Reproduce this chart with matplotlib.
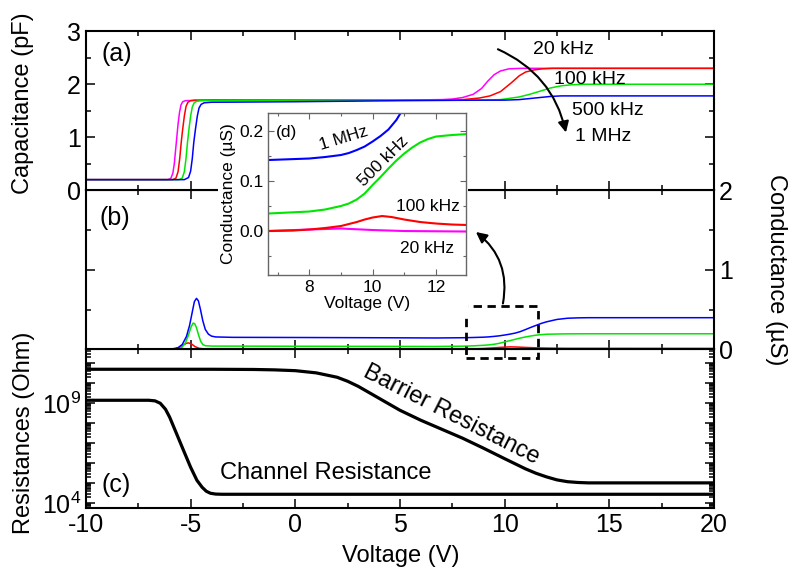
import numpy as np
import matplotlib
matplotlib.use('Agg')
import matplotlib.pyplot as plt
from matplotlib.ticker import MultipleLocator, LogLocator, FuncFormatter, NullFormatter, FormatStrFormatter
from matplotlib.patches import Rectangle

plt.rcParams['font.family'] = ['Liberation Sans', 'DejaVu Sans']
plt.rcParams['mathtext.fontset'] = 'custom'
plt.rcParams['mathtext.rm'] = 'Liberation Sans'
plt.rcParams['mathtext.default'] = 'regular'
plt.rcParams['axes.unicode_minus'] = False
plt.rcParams['xtick.direction'] = 'in'
plt.rcParams['ytick.direction'] = 'in'

# ---- (a) capacitance (pF) ----
v_cap_20k = [-10, -6.1, -5.95, -5.85, -5.78, -5.72, -5.66, -5.6, -5.53, -5.46, -5.38, -5.25, -4, 0, 5,
             7, 7.5, 8.0, 8.5, 8.9, 9.2, 9.5, 9.8, 10.2, 10.8, 20]
cap_20k = [0.2, 0.2, 0.22, 0.32, 0.5, 0.75, 1.0, 1.25, 1.47, 1.61, 1.67, 1.69, 1.7, 1.7, 1.7,
           1.71, 1.72, 1.75, 1.81, 1.92, 2.06, 2.18, 2.25, 2.29, 2.3, 2.3]
v_cap_100k = [-10, -5.85, -5.7, -5.6, -5.52, -5.45, -5.38, -5.3, -5.22, -5.13, -5.0, -4.8, 0, 5,
              8, 8.8, 9.3, 9.8, 10.3, 10.7, 11.0, 11.4, 11.8, 12.3, 20]
cap_100k = [0.2, 0.2, 0.23, 0.35, 0.6, 0.9, 1.15, 1.4, 1.58, 1.66, 1.69, 1.7, 1.7, 1.7,
            1.71, 1.74, 1.78, 1.86, 2.02, 2.16, 2.23, 2.27, 2.29, 2.3, 2.3]
v_cap_500k = [-10, -5.55, -5.4, -5.3, -5.22, -5.15, -5.08, -5.0, -4.92, -4.83, -4.7, -4.5, 0, 5,
              9, 9.8, 10.7, 11.2, 11.7, 12.2, 12.7, 13.2, 13.8, 20]
cap_500k = [0.2, 0.2, 0.23, 0.35, 0.6, 0.9, 1.15, 1.4, 1.57, 1.65, 1.68, 1.69, 1.7, 1.7,
            1.7, 1.71, 1.76, 1.81, 1.87, 1.93, 1.97, 1.99, 2.0, 2.0]
v_cap_1M = [-10, -5.3, -5.1, -5.0, -4.92, -4.85, -4.77, -4.68, -4.6, -4.5, -4.35, -4.0, 0, 5,
            9, 10, 10.7, 11.2, 11.7, 12.2, 12.7, 13.3, 20]
cap_1M = [0.2, 0.2, 0.24, 0.36, 0.6, 0.9, 1.15, 1.4, 1.55, 1.62, 1.65, 1.66, 1.67, 1.69,
          1.7, 1.7, 1.71, 1.73, 1.75, 1.77, 1.78, 1.78, 1.78]

# ---- (b)/(d) conductance (uS) ----
v_g_20k = [-10, -6.0, -5.8, -5.6, -5.45, -5.2, 0, 6.7, 8, 9, 10, 11, 13, 20]
g_20k = [0, 0, 0.01, 0.02, 0.01, 0.002, 0.001, 0.0, 0.003, 0.005, 0.002, 0.0, -0.001, -0.001]
v_g_100k = [-10, -5.8, -5.55, -5.35, -5.2, -5.1, -4.95, -4.8, -4.6, -4.3, 0, 6.7, 7.5, 8, 8.5, 9, 9.5,
            9.75, 10, 10.3, 10.6, 11, 11.5, 12, 12.5, 13, 20]
g_100k = [0, 0, 0.02, 0.055, 0.075, 0.08, 0.065, 0.035, 0.012, 0.003, 0.001, 0.0, 0.001, 0.003, 0.006,
          0.01, 0.018, 0.023, 0.027, 0.03, 0.028, 0.023, 0.018, 0.015, 0.013, 0.012, 0.011]
v_g_500k = [-10, -5.6, -5.4, -5.25, -5.1, -4.98, -4.88, -4.8, -4.72, -4.62, -4.52, -4.42, -4.3, -4.0, 0, 5,
            6.7, 8, 8.5, 9, 9.25, 9.5, 9.75, 10, 10.25, 10.5, 10.75, 11, 11.25, 11.5, 11.75, 12, 12.5,
            13, 14, 20]
g_500k = [0, 0, 0.03, 0.08, 0.18, 0.28, 0.33, 0.32, 0.27, 0.18, 0.1, 0.06, 0.045, 0.04, 0.038, 0.036,
          0.035, 0.039, 0.043, 0.05, 0.055, 0.063, 0.075, 0.092, 0.108, 0.125, 0.141, 0.155, 0.167,
          0.177, 0.184, 0.189, 0.192, 0.194, 0.195, 0.195]
v_g_1M = [-10, -5.8, -5.6, -5.4, -5.2, -5.05, -4.92, -4.82, -4.72, -4.63, -4.53, -4.42, -4.3, -4.15, -4.0,
          -3.8, -3.0, 0, 5, 6.7, 8, 8.5, 9, 9.25, 9.5, 9.75, 10, 10.25, 10.5, 10.75, 11, 11.25, 11.5,
          11.75, 12, 12.5, 13, 13.5, 14, 20]
g_1M = [0, 0, 0.02, 0.06, 0.16, 0.3, 0.47, 0.6, 0.64, 0.61, 0.5, 0.36, 0.25, 0.19, 0.165,
        0.155, 0.15, 0.148, 0.144, 0.142, 0.145, 0.148, 0.152, 0.156, 0.162, 0.169, 0.179, 0.19, 0.203,
        0.222, 0.248, 0.275, 0.3, 0.325, 0.345, 0.375, 0.39, 0.395, 0.397, 0.397]

# ---- (c) resistances, log10(Ohm) ----
v_barrier = [-10, -4, -2, -1, 0, 1, 2, 2.5, 3, 4, 5, 6, 7, 8, 9, 10, 11, 11.5, 12, 12.5, 13, 13.5, 14, 20]
logr_barrier = [10.7, 10.7, 10.69, 10.67, 10.63, 10.52, 10.3, 10.1, 9.85, 9.25, 8.65, 8.15, 7.7, 7.25,
                6.75, 6.23, 5.72, 5.5, 5.32, 5.17, 5.08, 5.04, 5.02, 5.02]
v_channel = [-10, -7, -6.7, -6.45, -6.2, -6.0, -5.7, -5.35, -5.0, -4.7, -4.45, -4.25, -4.05, -3.8, -3.5, 20]
logr_channel = [9.15, 9.15, 9.12, 9.0, 8.7, 8.3, 7.55, 6.67, 5.8, 5.15, 4.8, 4.6, 4.5, 4.46, 4.45, 4.45]

col_20k = '#ff00ff'
col_100k = '#ff0000'
col_500k = '#00e600'
col_1M = '#0000ff'

fig = plt.figure(figsize=(7.93, 5.72), dpi=100)
L, W, H = 0.1084, 0.7919, 0.278
ax_c = fig.add_axes([L, 0.1114, W, H])
ax_b = fig.add_axes([L, 0.1114 + H, W, H], sharex=ax_c)
ax_a = fig.add_axes([L, 0.1114 + 2 * H, W, H], sharex=ax_c)

for ax in (ax_a, ax_b, ax_c):
    for s in ax.spines.values():
        s.set_linewidth(1.5)
    ax.tick_params(which='both', top=True, bottom=True, left=True, right=True, width=1.1, labelsize=18)
    ax.tick_params(which='major', length=6.5)
    ax.tick_params(which='minor', length=3.6)
    ax.xaxis.set_major_locator(MultipleLocator(5))
    ax.xaxis.set_minor_locator(MultipleLocator(2.5))

# (a)
ax_a.plot(v_cap_20k, cap_20k, color=col_20k, lw=1.1)
ax_a.plot(v_cap_100k, cap_100k, color=col_100k, lw=1.1)
ax_a.plot(v_cap_500k, cap_500k, color=col_500k, lw=1.1)
ax_a.plot(v_cap_1M, cap_1M, color=col_1M, lw=1.1)
ax_a.set_ylim(0, 3)
ax_a.yaxis.set_major_locator(MultipleLocator(1))
ax_a.yaxis.set_minor_locator(MultipleLocator(0.5))
ax_a.tick_params(labelbottom=False)
ax_a.text(0.024, 0.855, '(a)', transform=ax_a.transAxes, fontsize=18, va='center')
ax_a.text(11.36, 2.65, '20 kHz', fontsize=14, va='center')
ax_a.text(12.36, 2.09, '100 kHz', fontsize=14, va='center')
ax_a.text(13.2, 1.51, '500 kHz', fontsize=14, va='center')
ax_a.text(13.36, 1.02, '1 MHz', fontsize=14, va='center')
ax_a.annotate('', xy=(12.93, 1.09), xytext=(9.68, 2.66),
              arrowprops=dict(arrowstyle='-|>', connectionstyle='arc3,rad=-0.25', color='k',
                              lw=1.5, mutation_scale=16, shrinkA=0, shrinkB=0))

# (b)
ax_b.plot(v_g_20k, g_20k, color=col_20k, lw=1.1)
ax_b.plot(v_g_100k, g_100k, color=col_100k, lw=1.1)
ax_b.plot(v_g_500k, g_500k, color=col_500k, lw=1.1)
ax_b.plot(v_g_1M, g_1M, color=col_1M, lw=1.1)
ax_b.set_ylim(0, 2)
ax_b.yaxis.set_major_locator(MultipleLocator(1))
ax_b.yaxis.set_minor_locator(MultipleLocator(0.5))
ax_b.tick_params(labelbottom=False, labelleft=False, labelright=True)
ax_b.text(0.022, 0.824, '(b)', transform=ax_b.transAxes, fontsize=18, va='center')
ax_b.add_patch(Rectangle((8.16, -0.11), 11.58 - 8.16, 0.538 + 0.11, fill=False, ec='k', lw=2,
                         ls=(0, (3, 2)), clip_on=False, zorder=5))
ax_b.annotate('', xy=(8.63, 1.475), xytext=(9.92, 0.576),
              arrowprops=dict(arrowstyle='-|>', connectionstyle='arc3,rad=0.3', color='k',
                              lw=1.5, mutation_scale=16, shrinkA=0, shrinkB=0))

# (c)
ax_c.plot(v_barrier, 10.0 ** np.array(logr_barrier), color='k', lw=2.3)
ax_c.plot(v_channel, 10.0 ** np.array(logr_channel), color='k', lw=2.3)
ax_c.set_yscale('log')
ax_c.set_ylim(10 ** 3.75, 10 ** 11.7)
ax_c.yaxis.set_major_locator(LogLocator(base=10, numticks=30))
ax_c.yaxis.set_minor_locator(LogLocator(base=10, subs=np.arange(2, 10), numticks=30))
ax_c.yaxis.set_minor_formatter(NullFormatter())
ax_c.yaxis.set_major_formatter(FuncFormatter(
    lambda y, p: r'$10^{%d}$' % round(np.log10(y)) if round(np.log10(y)) in (4, 9) else ''))
ax_c.set_xlim(-10, 20)
ax_c.text(0.024, 0.147, '(c)', transform=ax_c.transAxes, fontsize=18, va='center')
ax_c.text(-3.6, 10 ** 5.51, 'Channel Resistance', fontsize=17, va='center', ha='left')
ax_c.text(7.45, 10 ** 8.42, 'Barrier Resistance', fontsize=17, va='center', ha='center',
          rotation=-27, rotation_mode='anchor')

# axis titles
fig.text(0.029, 0.820, 'Capacitance (pF)', rotation=90, fontsize=17, ha='center', va='center')
fig.text(0.030, 0.243, 'Resistances (Ohm)', rotation=90, fontsize=17, ha='center', va='center')
fig.text(0.979, 0.529, 'Conductance (\u00b5S)', rotation=270, fontsize=17, ha='center', va='center')
fig.text(0.505, 0.0175, 'Voltage (V)', fontsize=17, ha='center', va='baseline')

# white area behind inset
fig.add_artist(Rectangle((0.275, 0.444), 0.315, 0.370, transform=fig.transFigure,
                         fc='white', ec='none', zorder=1))

# (d) inset
ax_d = fig.add_axes([0.338, 0.5192, 0.2497, 0.2832])
ax_d.set_zorder(3)
ax_d.plot(v_g_20k, g_20k, color=col_20k, lw=1.5)
ax_d.plot(v_g_100k, g_100k, color=col_100k, lw=1.5)
ax_d.plot(v_g_500k, g_500k, color=col_500k, lw=1.5)
ax_d.plot(v_g_1M, g_1M, color=col_1M, lw=1.5)
ax_d.set_xlim(6.7, 12.95)
ax_d.set_ylim(-0.088, 0.236)
ax_d.xaxis.set_major_locator(MultipleLocator(2))
ax_d.xaxis.set_minor_locator(MultipleLocator(1))
ax_d.yaxis.set_major_locator(MultipleLocator(0.1))
ax_d.yaxis.set_minor_locator(MultipleLocator(0.05))
ax_d.yaxis.set_major_formatter(FormatStrFormatter('%.1f'))
for s in ax_d.spines.values():
    s.set_linewidth(1.0)
    s.set_color('#666666')
ax_d.tick_params(which='both', top=True, right=True, color='#666666', labelsize=12.5, width=0.8)
ax_d.tick_params(which='major', length=4)
ax_d.tick_params(which='minor', length=2.5)
ax_d.set_xlabel('Voltage (V)', fontsize=12.5, labelpad=1)
ax_d.set_ylabel('Conductance (\u00b5S)', fontsize=12.5, labelpad=2)
ax_d.text(0.04, 0.877, '(d)', transform=ax_d.transAxes, fontsize=12.5, va='center')
ax_d.text(9.08, 0.185, '1 MHz', fontsize=12.5, ha='center', va='center', rotation=17)
ax_d.text(10.34, 0.139, '500 kHz', fontsize=12.5, ha='center', va='center', rotation=45)
ax_d.text(11.74, 0.049, '100 kHz', fontsize=12.5, ha='center', va='center')
ax_d.text(11.73, -0.035, '20 kHz', fontsize=12.5, ha='center', va='center')

fig.savefig('out.png', dpi=100)
